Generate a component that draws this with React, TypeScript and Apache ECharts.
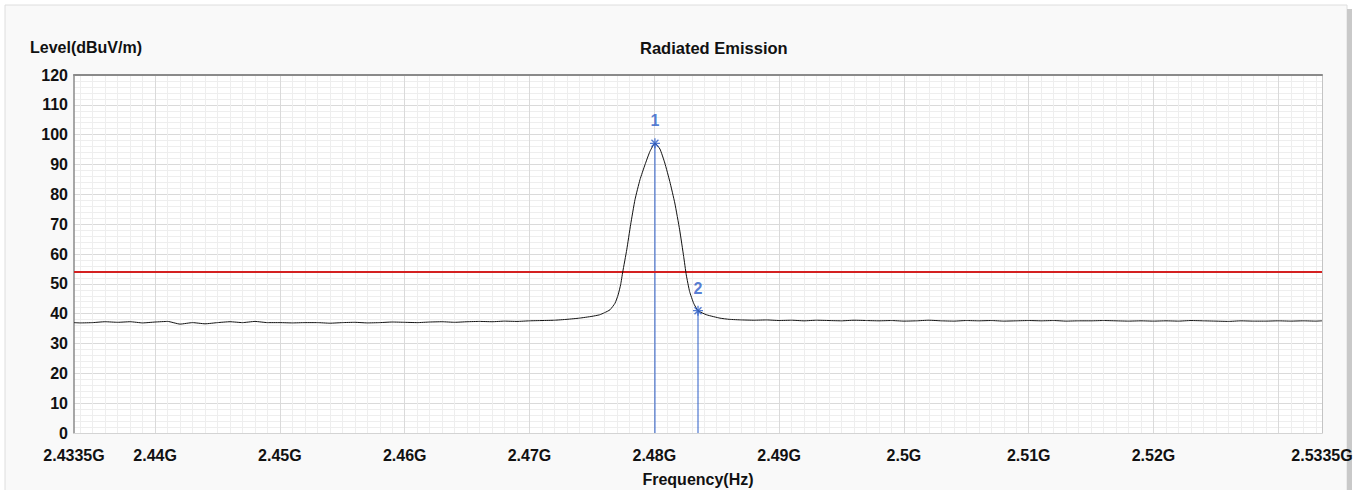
import React, { useEffect, useRef } from "react";
import * as echarts from "echarts";

// Frequency in MHz, level in dBuV/m
const freqMHz = [
  2433.5, 2434, 2435, 2436, 2437, 2438, 2439, 2440, 2441, 2442, 2443, 2444, 2445, 2446, 2447, 2448, 2449,
  2450, 2451, 2452, 2453, 2454, 2455, 2456, 2457, 2458, 2459, 2460, 2461, 2462, 2463, 2464, 2465, 2466,
  2467, 2468, 2469, 2470, 2471, 2472, 2473, 2474, 2475, 2475.6, 2476, 2476.45, 2476.85, 2477.1, 2477.3,
  2477.47, 2477.79, 2478.1, 2478.45, 2478.85, 2479.25, 2479.65, 2480.05, 2480.45, 2480.84, 2481.24,
  2481.64, 2482.03, 2482.35, 2482.56, 2482.83, 2483.15, 2483.5, 2484.2, 2485.26, 2486, 2487, 2488, 2489,
  2490, 2491, 2492, 2493, 2494, 2495, 2496, 2497, 2498, 2499, 2500, 2501, 2502, 2503, 2504, 2505, 2506,
  2507, 2508, 2509, 2510, 2511, 2512, 2513, 2514, 2515, 2516, 2517, 2518, 2519, 2520, 2521, 2522, 2523,
  2524, 2525, 2526, 2527, 2528, 2529, 2530, 2531, 2532, 2533, 2533.5,
];
const levelDb = [
  37.0, 36.9, 37.0, 37.3, 37.1, 37.3, 36.9, 37.2, 37.4, 36.5, 37.0, 36.6, 37.0, 37.3, 37.0, 37.4, 37.0,
  37.0, 36.9, 37.0, 37.0, 36.8, 37.0, 37.1, 36.9, 37.0, 37.2, 37.1, 37.0, 37.2, 37.3, 37.1, 37.3, 37.4,
  37.3, 37.5, 37.4, 37.6, 37.7, 37.8, 38.1, 38.5, 39.1, 39.6, 40.3, 41.3, 43.5, 46.3, 49.7,
  54.0, 61.4, 69.8, 78.2, 84.9, 89.9, 94.4, 97.1, 95.2, 90.5, 84.3,
  77.1, 68.1, 59.2, 53.0, 47.4, 43.5, 41.0, 39.6, 38.5, 38.1, 37.9, 37.8, 37.9,
  37.7, 37.8, 37.6, 37.8, 37.7, 37.6, 37.8, 37.7, 37.6, 37.7, 37.5, 37.6, 37.8, 37.6, 37.5, 37.7, 37.6,
  37.7, 37.5, 37.6, 37.7, 37.6, 37.7, 37.5, 37.6, 37.6, 37.7, 37.6, 37.5, 37.6, 37.5, 37.6, 37.5, 37.7,
  37.6, 37.5, 37.4, 37.6, 37.5, 37.5, 37.6, 37.5, 37.6, 37.5, 37.6,
];

const markerNames = ["1", "2"];
const markerFreq = [2480.05, 2483.5];
const markerLevel = [97.1, 41.0];

const limitLevel = 54;

const xMin = 2433.5;
const xMax = 2533.5;
const xLabelValues = [2433.5, 2440, 2450, 2460, 2470, 2480, 2490, 2500, 2510, 2520, 2533.5];
const xMajorGrid = [2440, 2450, 2460, 2470, 2480, 2490, 2500, 2510, 2520, 2530];
const yMin = 0;
const yMax = 120;
const yInterval = 10;

const xMinorGrid: number[] = [];
for (let f = Math.ceil(xMin); f <= Math.floor(xMax); f++) xMinorGrid.push(f);

const FONT = "'Liberation Sans', Arial, sans-serif";
const BLUE = "#2a5cc8";

export default function App() {
  const ref = useRef<HTMLDivElement>(null);

  useEffect(() => {
    document.body.style.margin = "0";
    if (!ref.current) return;
    const chart = echarts.init(ref.current, undefined, { renderer: "svg" });

    const trace = freqMHz.map((f, i) => [f, levelDb[i]]);
    const markers = markerFreq.map((f, i) => [f, markerLevel[i]]);

    const markerLineSeries = markerFreq.map((f, i) => ({
      type: "line",
      xAxisIndex: 1,
      yAxisIndex: 0,
      data: [
        [f, markerLevel[i]],
        [f, yMin],
      ],
      symbol: "none",
      silent: true,
      lineStyle: { color: BLUE, width: 1 },
      z: 4,
    }));

    chart.setOption({
      animation: false,
      backgroundColor: "#ffffff",
      graphic: [
        {
          type: "rect",
          z: -10,
          shape: { x: 5, y: 5, width: 1342, height: 500 },
          style: { fill: "#f9f9f9", stroke: "#dedede", lineWidth: 1 },
        },
        {
          type: "rect",
          z: -10,
          shape: { x: 1347, y: 9, width: 5, height: 490 },
          style: { fill: "#c9c9c9" },
        },
      ],
      title: [
        {
          text: "Level(dBuV/m)",
          left: 30,
          top: 39,
          padding: 0,
          textStyle: { fontFamily: FONT, fontSize: 16, fontWeight: "bold", color: "#111" },
        },
        {
          text: "Radiated Emission",
          left: 640,
          top: 39,
          padding: 0,
          textStyle: { fontFamily: FONT, fontSize: 16.5, fontWeight: "bold", color: "#111" },
        },
      ],
      grid: {
        left: 74,
        right: 46,
        top: 75,
        bottom: 57,
        outerBoundsMode: "none",
        containLabel: false,
        show: true,
        backgroundColor: "#ffffff",
        borderWidth: 0,
      },
      xAxis: [
        {
          type: "value",
          min: xMin,
          max: xMax,
          position: "bottom",
          axisLine: { show: false },
          axisTick: { show: false, customValues: xMinorGrid },
          axisLabel: { show: false },
          splitLine: { show: true, lineStyle: { color: "#eeeeee", width: 1 } },
        },
        {
          type: "value",
          min: xMin,
          max: xMax,
          position: "bottom",
          name: "Frequency(Hz)",
          nameLocation: "middle",
          nameGap: 38,
          nameTextStyle: { fontFamily: FONT, fontSize: 16, fontWeight: "bold", color: "#111" },
          axisLine: { show: true, onZero: false, lineStyle: { color: "#d4d4d4", width: 1 } },
          axisTick: { show: false, customValues: xMajorGrid },
          axisLabel: {
            customValues: xLabelValues,
            margin: 14,
            fontFamily: FONT,
            fontSize: 16,
            fontWeight: "bold",
            color: "#111",
            formatter: (v: number) => parseFloat((v / 1000).toFixed(4)) + "G",
          },
          splitLine: { show: true, lineStyle: { color: "#dadada", width: 1 } },
        },
        {
          type: "value",
          min: xMin,
          max: xMax,
          position: "top",
          axisLine: { show: true, onZero: false, lineStyle: { color: "#8a8a8a", width: 2 } },
          axisTick: { show: false },
          axisLabel: { show: false },
          splitLine: { show: false },
        },
      ],
      yAxis: [
        {
          type: "value",
          min: yMin,
          max: yMax,
          interval: yInterval,
          position: "left",
          axisLine: { show: true, onZero: false, lineStyle: { color: "#8a8a8a", width: 1.5 } },
          axisTick: { show: false },
          axisLabel: {
            margin: 6,
            fontFamily: FONT,
            fontSize: 16,
            fontWeight: "bold",
            color: "#111",
          },
          minorTick: { show: false, splitNumber: 5 },
          minorSplitLine: { show: true, lineStyle: { color: "#eeeeee", width: 1 } },
          splitLine: { show: true, lineStyle: { color: "#dadada", width: 1 } },
        },
        {
          type: "value",
          min: yMin,
          max: yMax,
          position: "right",
          axisLine: { show: true, onZero: false, lineStyle: { color: "#c4c4c4", width: 1 } },
          axisTick: { show: false },
          axisLabel: { show: false },
          splitLine: { show: false },
        },
      ],
      series: [
        ...markerLineSeries,
        {
          type: "line",
          xAxisIndex: 1,
          yAxisIndex: 0,
          data: trace,
          symbol: "none",
          smooth: 0.15,
          lineStyle: { color: "#111111", width: 1 },
          z: 5,
          markLine: {
            silent: true,
            symbol: "none",
            label: { show: false },
            emphasis: { disabled: true },
            data: [{ yAxis: limitLevel, lineStyle: { color: "#d42121", width: 2, type: "solid" } }],
          },
        },
        {
          type: "scatter",
          xAxisIndex: 1,
          yAxisIndex: 0,
          data: markers,
          z: 6,
          symbol: "path://M5,0L5,10M0,5L10,5M1.5,1.5L8.5,8.5M8.5,1.5L1.5,8.5",
          symbolSize: 10,
          itemStyle: { color: "rgba(0,0,0,0)", borderColor: BLUE, borderWidth: 1.3 },
          label: {
            show: true,
            position: "top",
            distance: 9,
            formatter: (p: any) => markerNames[p.dataIndex],
            fontFamily: FONT,
            fontSize: 16,
            fontWeight: "bold",
            color: BLUE,
          },
        },
      ],
    });

    return () => chart.dispose();
  }, []);

  return <div ref={ref} style={{ width: 1368, height: 490 }} />;
}
